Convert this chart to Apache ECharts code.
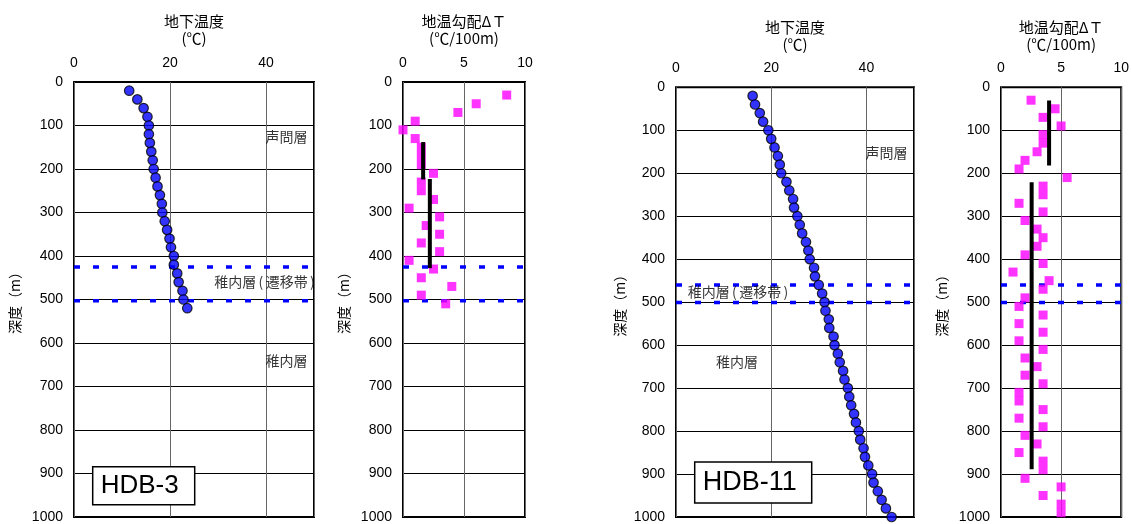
<!DOCTYPE html>
<html>
<head>
<meta charset="utf-8">
<script src="https://cdn.jsdelivr.net/npm/echarts@6/dist/echarts.min.js"></script>
<style>
html,body{margin:0;padding:0;background:#fff;}
#chart{width:1132px;height:524px;}
</style>
</head>
<body>
<div id="chart"></div>
<script>
// ---------- data ----------
const hdb3Depth = [20,40,60,80,100,120,140,160,180,200,220,240,260,280,300,320,340,360,380,400,420,440,460,480,500,520];
const hdb3Temp  = [11.5,13.2,14.5,15.3,15.6,15.6,15.8,16.1,16.4,16.6,17.0,17.4,17.9,18.3,18.4,18.9,19.4,19.9,20.2,20.8,20.8,21.5,21.8,22.6,22.8,23.6];

const hdb3GradDepth = [30,50,70,90,110,130,150,170,190,210,230,250,270,290,310,330,350,370,390,410,430,450,470,490,510];
const hdb3Grad      = [8.5,6.0,4.5,1.0,0.0,1.0,1.5,1.5,1.5,2.5,1.5,1.5,2.5,0.5,3.0,1.9,3.0,1.5,3.0,0.5,2.5,1.5,4.0,1.5,3.5];

const hdb3MeanX    = [1.65, 2.2];
const hdb3MeanTop  = [138, 223];
const hdb3MeanBase = [224, 428];
const hdb3Bounds   = [425, 503];

const hdb11Depth = [20,40,60,80,100,120,140,160,180,200,220,240,260,280,300,320,340,360,380,400,420,440,460,480,500,520,540,560,580,600,620,640,660,680,700,720,740,760,780,800,820,840,860,880,900,920,940,960,980,1000];
const hdb11Temp  = [16.1,16.6,17.6,18.3,19.4,20.0,20.7,21.4,21.8,22.1,23.2,23.8,24.6,24.8,25.5,26.0,26.5,27.3,27.8,28.1,29.0,29.2,30.0,30.7,31.2,31.4,32.1,32.2,33.1,33.3,34.0,34.4,35.1,35.4,36.1,36.4,36.8,37.4,37.8,38.4,38.7,39.4,39.7,40.4,41.2,41.5,42.4,43.2,44.1,45.3];

const hdb11GradDepth = [30,50,70,90,110,130,150,170,190,210,230,250,270,290,310,330,350,370,390,410,430,450,470,490,510,530,550,570,590,610,630,650,670,690,710,730,750,770,790,810,830,850,870,890,910,930,950,970,990];
const hdb11Grad      = [2.5,4.5,3.5,5.0,3.5,3.5,3.0,2.0,1.5,5.5,3.5,3.5,1.5,3.5,2.0,3.0,3.5,3.0,2.0,3.5,1.0,4.0,3.5,2.0,1.5,3.5,1.5,3.5,1.5,3.5,2.0,3.0,2.0,3.5,1.5,1.5,3.5,1.5,3.5,2.0,3.0,1.5,3.5,3.5,2.0,5.0,3.5,5.0,5.0];

const hdb11MeanX    = [4.0, 2.55];
const hdb11MeanTop  = [31, 221];
const hdb11MeanBase = [182, 889];
const hdb11Bounds   = [460, 501];

const tempTitle  = '地下温度\n(℃)';
const gradTitle  = '地温勾配ΔＴ\n(℃/100m)';
const depthTitle = '深度（m）';
const wellNames  = ['HDB-3', 'HDB-11'];
const layerNames = ['声問層', '稚内層(遷移帯)', '稚内層'];

// ---------- helpers ----------
const NUM_FONT = "'Liberation Sans', Arial, sans-serif";
const CJK_FONT = "'Noto Sans CJK JP', 'Liberation Sans', sans-serif";

function zip(xs, ys) { return xs.map((x, i) => [x, ys[i]]); }

// wrap ASCII parentheses in a padded rich style so they take more room, like the original
function richParens(s) {
  return s.replace(/[()]/g, m => '{p|' + m + '}');
}

const grids = [
  {left: 74,   top: 82,   width: 240, height: 439.5},
  {left: 403,  top: 82,   width: 122, height: 439.5},
  {left: 676,  top: 87.3, width: 238, height: 431},
  {left: 1001, top: 87.3, width: 121, height: 431}
];

function makeX(gi, max, interval, name, showMax) {
  return {
    gridIndex: gi, type: 'value', position: 'top', min: 0, max: max, interval: interval,
    name: name, nameLocation: 'middle', nameGap: 35,
    nameTextStyle: {fontSize: 15, lineHeight: 17, color: '#000', fontFamily: CJK_FONT},
    axisLine: {show: false}, axisTick: {show: false},
    axisLabel: {fontSize: 14, color: '#000', fontFamily: NUM_FONT, margin: 12, showMaxLabel: showMax, showMinLabel: true,
      formatter: v => String(v)},
    splitLine: {show: true, lineStyle: {color: '#666', width: 1}}
  };
}
function makeY(gi, gap) {
  return {
    gridIndex: gi, type: 'value', inverse: true, min: 0, max: 1000, interval: 100,
    name: depthTitle, nameLocation: 'middle', nameRotate: 90, nameGap: gap,
    nameTextStyle: {fontSize: 14, color: '#000', fontFamily: CJK_FONT},
    axisLine: {show: false}, axisTick: {show: false},
    axisLabel: {fontSize: 14, color: '#000', fontFamily: NUM_FONT, margin: 11, showMaxLabel: true,
      formatter: v => String(v)},
    splitLine: {show: true, lineStyle: {color: '#000', width: 1}}
  };
}

const series = [];
function tempSeries(gi, depth, temp) {
  series.push({type: 'scatter', xAxisIndex: gi, yAxisIndex: gi, data: zip(temp, depth),
    symbol: 'circle', symbolSize: 9.5, z: 5,
    itemStyle: {color: '#0000FF', borderColor: '#000', borderWidth: 1.2}, silent: true});
}
function gradSeries(gi, depth, grad) {
  series.push({type: 'scatter', xAxisIndex: gi, yAxisIndex: gi, data: zip(grad, depth),
    symbol: 'rect', symbolSize: 9, z: 4,
    itemStyle: {color: '#FF00FF'}, silent: true});
}
function meanSeries(gi, xs, tops, bases) {
  xs.forEach((x, i) => {
    series.push({type: 'line', xAxisIndex: gi, yAxisIndex: gi, data: [[x, tops[i]], [x, bases[i]]],
      symbol: 'none', z: 6, lineStyle: {color: '#000', width: 4}, silent: true});
  });
}
function boundSeries(gi, max, bounds) {
  bounds.forEach(d => {
    series.push({type: 'line', xAxisIndex: gi, yAxisIndex: gi, data: [[0, d], [max, d]],
      symbol: 'none', z: 3, lineStyle: {color: '#0000FF', width: 3.5, type: [6, 13]}, silent: true});
  });
}
function labelSeries(gi, items) {
  series.push({type: 'scatter', xAxisIndex: gi, yAxisIndex: gi, symbolSize: 0, z: 7, silent: true,
    data: items.map(it => ({value: [it[0], it[1]], name: it[2]})),
    label: {show: true, position: [0, 0], align: 'left', verticalAlign: 'middle',
      formatter: p => richParens(p.name), color: '#000', fontFamily: CJK_FONT, fontSize: 14,
      rich: {p: {fontSize: 14, color: '#000', fontFamily: CJK_FONT, padding: [0, 2.4, 0, 2.4]}}}
  });
}

// Panel 1: HDB-3 temperature
boundSeries(0, 50, hdb3Bounds);
tempSeries(0, hdb3Depth, hdb3Temp);
labelSeries(0, [[39.9, 126, layerNames[0]], [29.2, 458, layerNames[1]], [39.9, 640, layerNames[2]]]);
// Panel 2: HDB-3 gradient
boundSeries(1, 10, hdb3Bounds);
gradSeries(1, hdb3GradDepth, hdb3Grad);
meanSeries(1, hdb3MeanX, hdb3MeanTop, hdb3MeanBase);
// Panel 3: HDB-11 temperature
boundSeries(2, 50, hdb11Bounds);
tempSeries(2, hdb11Depth, hdb11Temp);
labelSeries(2, [[39.8, 153, layerNames[0]], [2.45, 476, layerNames[1]], [8.4, 639, layerNames[2]]]);
// Panel 4: HDB-11 gradient
boundSeries(3, 10, hdb11Bounds);
gradSeries(3, hdb11GradDepth, hdb11Grad);
meanSeries(3, hdb11MeanX, hdb11MeanTop, hdb11MeanBase);

const option = {
  animation: false,
  backgroundColor: '#fff',
  grid: grids.map(g => Object.assign({show: true, borderColor: '#000', borderWidth: 2, backgroundColor: 'transparent', containLabel: false}, g)),
  xAxis: [makeX(0, 50, 20, tempTitle, false), makeX(1, 10, 5, gradTitle, true), makeX(2, 50, 20, tempTitle, false), makeX(3, 10, 5, gradTitle, true)],
  yAxis: [makeY(0, 52), makeY(1, 52), makeY(2, 49), makeY(3, 52)],
  title: [
    {text: wellNames[0], left: 92.7, top: 466.7, padding: [6, 16, 6, 8], borderColor: '#000', borderWidth: 1.5, backgroundColor: '#fff',
      textStyle: {fontSize: 26, fontWeight: 'normal', color: '#000', fontFamily: NUM_FONT}, z: 10},
    {text: wellNames[1], left: 694, top: 462, padding: [7, 15, 7, 8.7], borderColor: '#000', borderWidth: 1.5, backgroundColor: '#fff',
      textStyle: {fontSize: 27, fontWeight: 'normal', color: '#000', fontFamily: NUM_FONT}, z: 10}
  ],
  series: series
};

const chart = echarts.init(document.getElementById('chart'), null, {renderer: 'canvas'});
chart.setOption(option);
</script>
</body>
</html>
